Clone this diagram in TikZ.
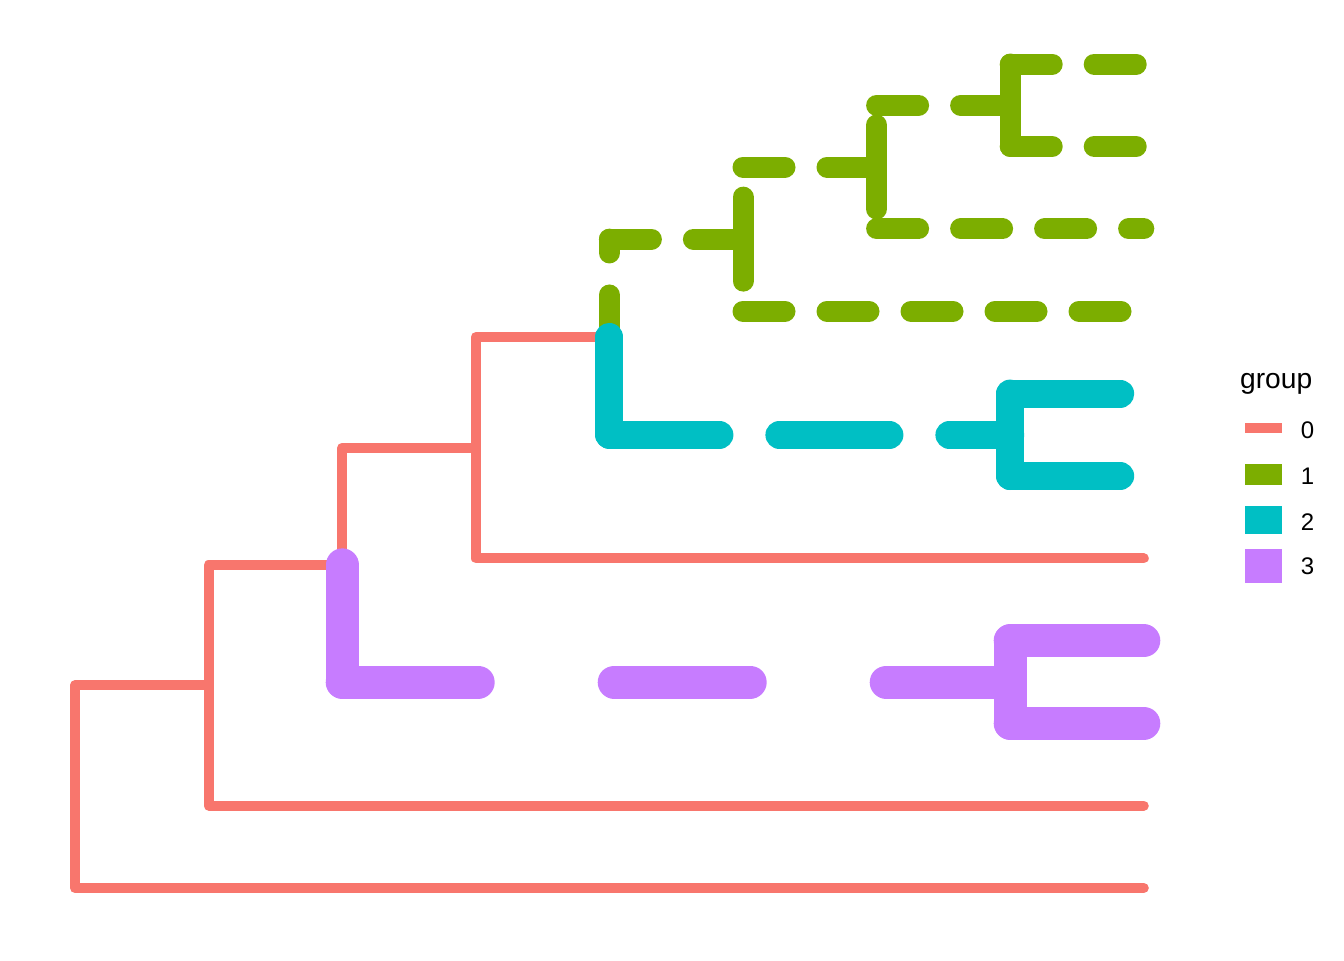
\documentclass[tikz,border=0pt]{standalone}
\usepackage{fontspec}
\setmainfont{Liberation Sans}
\definecolor{g0}{HTML}{F8766D}
\definecolor{g1}{HTML}{7CAE00}
\definecolor{g2}{HTML}{00BFC4}
\definecolor{g3}{HTML}{C77CFF}
\begin{document}
\begin{tikzpicture}[x=0.5pt,y=-0.5pt,
  br0/.style={draw=g0, line width=5pt, line cap=round, line join=round},
  br1/.style={draw=g1, line width=10.5pt, line cap=round, dash pattern=on 21pt off 21pt},
  br2/.style={draw=g2, line width=14pt, line cap=round, dash pattern=on 55pt off 30pt},
  br3/.style={draw=g3, line width=16.5pt, line cap=round, dash pattern=on 68pt off 68pt},
  keybox/.style={rectangle, inner sep=0pt, minimum width=18.5pt},
  keylab/.style={anchor=base west, inner sep=0pt, font=\fontsize{12pt}{14pt}\selectfont},
]
\useasboundingbox (0,0) rectangle (1344,960);
% internal nodes
\coordinate (root) at (75,786.6);
\coordinate (A) at (208.6,685.2);
\coordinate (B) at (342.2,564.85);
\coordinate (C) at (475.8,447.7);
\coordinate (E) at (609.4,336.95);
\coordinate (G) at (743,239.1);
\coordinate (H) at (876.6,167.0);
\coordinate (I) at (1010.2,105.2);
\coordinate (F) at (1010.2,434.8);
\coordinate (D) at (1010.2,682.0);
% tips
\coordinate (t1) at (1143.8,64);
\coordinate (t2) at (1143.8,146.4);
\coordinate (t3) at (1143.8,228.8);
\coordinate (t4) at (1143.8,311.2);
\coordinate (t5) at (1143.8,393.6);
\coordinate (t6) at (1143.8,476);
\coordinate (t7) at (1143.8,558.4);
\coordinate (t8) at (1143.8,640.8);
\coordinate (t9) at (1143.8,723.2);
\coordinate (t10) at (1143.8,805.6);
\coordinate (t11) at (1143.8,888);
% group 0
\path[br0] (root) -- (root|-A) -- (A);
\path[br0] (root) -- (root|-t11) -- (t11);
\path[br0] (A) -- (A|-t10) -- (t10);
\path[br0] (A) -- (A|-B) -- (B);
\path[br0] (B) -- (B|-C) -- (C);
\path[br0] (C) -- (C|-t7) -- (t7);
\path[br0] (C) -- (C|-E) -- (E);
% group 1
\path[br1] (E) -- (E|-G);  \path[br1] (E|-G) -- (G);
\path[br1] (G) -- (G|-t4); \path[br1] (G|-t4) -- (t4);
\path[br1] (G) -- (G|-H);  \path[br1] (G|-H) -- (H);
\path[br1] (H) -- (H|-t3); \path[br1] (H|-t3) -- (t3);
\path[br1] (H) -- (H|-I);  \path[br1] (H|-I) -- (I);
\path[br1] (I) -- (I|-t1); \path[br1] (I|-t1) -- (t1);
\path[br1] (I) -- (I|-t2); \path[br1] (I|-t2) -- (t2);
% group 2
\path[br2] (E) -- (E|-F);  \path[br2] (E|-F) -- (F);
\path[br2] (F) -- (F|-t5); \path[br2] (F|-t5) -- (t5);
\path[br2] (F) -- (F|-t6); \path[br2] (F|-t6) -- (t6);
% group 3
\path[br3] (B) -- (B|-D);  \path[br3] (B|-D) -- (D);
\path[br3] (D) -- (D|-t8); \path[br3] (D|-t8) -- (t8);
\path[br3] (D) -- (D|-t9); \path[br3] (D|-t9) -- (t9);
% legend
\node[anchor=base west, inner sep=0pt, font=\fontsize{14.1pt}{17pt}\selectfont] (title) at (1239.7,388.3) {group};
\node[keybox, fill=g0, minimum height=5pt] (k0) at (1263.5,428.2) {};
\node[keybox, fill=g1, minimum height=10.5pt] (k1) at (1263.5,474.5) {};
\node[keybox, fill=g2, minimum height=14pt] (k2) at (1263.5,519.8) {};
\node[keybox, fill=g3, minimum height=16.8pt] (k3) at (1263.5,565.8) {};
\node[keylab] (l0) at (1300.5,438.5) {0};
\node[keylab] (l1) at (1300.5,484) {1};
\node[keylab] (l2) at (1300.5,530) {2};
\node[keylab] (l3) at (1300.5,574) {3};
\end{tikzpicture}
\end{document}
